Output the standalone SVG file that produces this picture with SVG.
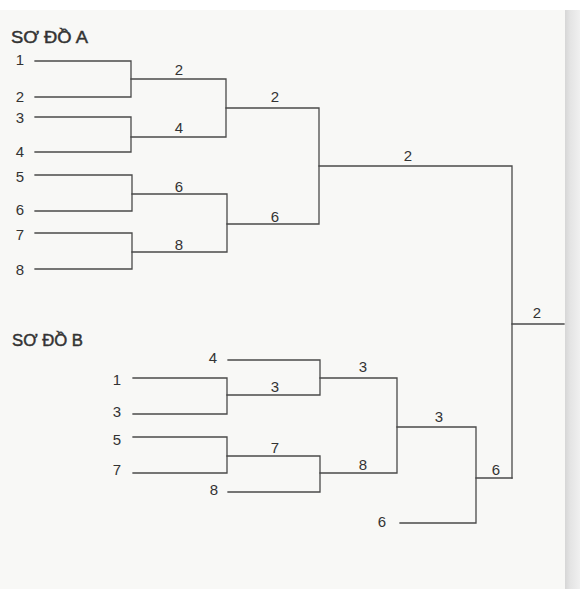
<svg xmlns="http://www.w3.org/2000/svg" width="580" height="589" viewBox="0 0 580 589">
<style>
.bg{fill:#f8f8f6}
.ln{fill:none;stroke:#4a4a4a;stroke-width:1.3;stroke-linecap:square}
.num{font-family:"Liberation Sans",Arial,sans-serif;font-size:15px;fill:#333;text-anchor:middle}
.title{font-family:"Liberation Sans",Arial,sans-serif;font-size:16px;fill:#333;stroke:#333;stroke-width:0.45}
</style>
<defs>
<linearGradient id="edge" x1="0" y1="0" x2="1" y2="0">
<stop offset="0" stop-color="#d6d6d6"/>
<stop offset="0.35" stop-color="#e4e4e4"/>
<stop offset="1" stop-color="#f0f0f0"/>
</linearGradient>
</defs>
<rect class="bg" x="0" y="0" width="580" height="589"/>
<rect x="0" y="0" width="580" height="10" fill="#ffffff"/>
<rect x="565" y="10" width="15" height="579" fill="url(#edge)"/>

<g id="titleA"><text class="title" x="11" y="43" textLength="77" lengthAdjust="spacingAndGlyphs">SƠ ĐỒ A</text></g>
<g id="titleB"><text class="title" x="12" y="346" textLength="71" lengthAdjust="spacingAndGlyphs">SƠ ĐỒ B</text></g>

<g id="connectors">
<path class="ln" d="M35 61H131V97H35"/>
<path class="ln" d="M35 117H131V152H35"/>
<path class="ln" d="M35 175H132V211H35"/>
<path class="ln" d="M35 233H132V269H35"/>
<path class="ln" d="M131 79H226V137H131"/>
<path class="ln" d="M132 194H227V252H132"/>
<path class="ln" d="M226 108H319V224H227"/>
<path class="ln" d="M319 166H512V478"/>
<path class="ln" d="M512 324H564"/>
<path class="ln" d="M133 378H227V414H133"/>
<path class="ln" d="M133 437H227V473H133"/>
<path class="ln" d="M228 360H320V395H227"/>
<path class="ln" d="M227 456H320V492H228"/>
<path class="ln" d="M320 378H397V473H320"/>
<path class="ln" d="M397 427H476V523H400"/>
<path class="ln" d="M476 478H512"/>
</g>

<g id="teamsA">
<g id="a1"><text class="num" x="20" y="65">1</text></g>
<g id="a2"><text class="num" x="20" y="102">2</text></g>
<g id="a3"><text class="num" x="20" y="123">3</text></g>
<g id="a4"><text class="num" x="20" y="157">4</text></g>
<g id="a5"><text class="num" x="20" y="182">5</text></g>
<g id="a6"><text class="num" x="20" y="215">6</text></g>
<g id="a7"><text class="num" x="20" y="240">7</text></g>
<g id="a8"><text class="num" x="20" y="275">8</text></g>
</g>
<g id="winnersA">
<g id="a-m1"><text class="num" x="179" y="75">2</text></g>
<g id="a-m2"><text class="num" x="179" y="133">4</text></g>
<g id="a-m3"><text class="num" x="179" y="192">6</text></g>
<g id="a-m4"><text class="num" x="179" y="250">8</text></g>
<g id="a-s1"><text class="num" x="275" y="102">2</text></g>
<g id="a-s2"><text class="num" x="275" y="222">6</text></g>
<g id="a-f"><text class="num" x="408" y="161">2</text></g>
</g>
<g id="teamsB">
<g id="b1"><text class="num" x="117" y="385">1</text></g>
<g id="b3"><text class="num" x="117" y="417">3</text></g>
<g id="b5"><text class="num" x="117" y="445">5</text></g>
<g id="b7"><text class="num" x="117" y="475">7</text></g>
<g id="b4"><text class="num" x="213" y="363">4</text></g>
<g id="b8"><text class="num" x="214" y="495">8</text></g>
<g id="b6"><text class="num" x="382" y="527">6</text></g>
</g>
<g id="winnersB">
<g id="b-m1"><text class="num" x="275" y="392">3</text></g>
<g id="b-m2"><text class="num" x="275" y="453">7</text></g>
<g id="b-m3"><text class="num" x="363" y="372">3</text></g>
<g id="b-m4"><text class="num" x="363" y="470">8</text></g>
<g id="b-m5"><text class="num" x="439" y="422">3</text></g>
<g id="b-f"><text class="num" x="496" y="475">6</text></g>
</g>
<g id="champion"><text class="num" x="537" y="318">2</text></g>
</svg>
